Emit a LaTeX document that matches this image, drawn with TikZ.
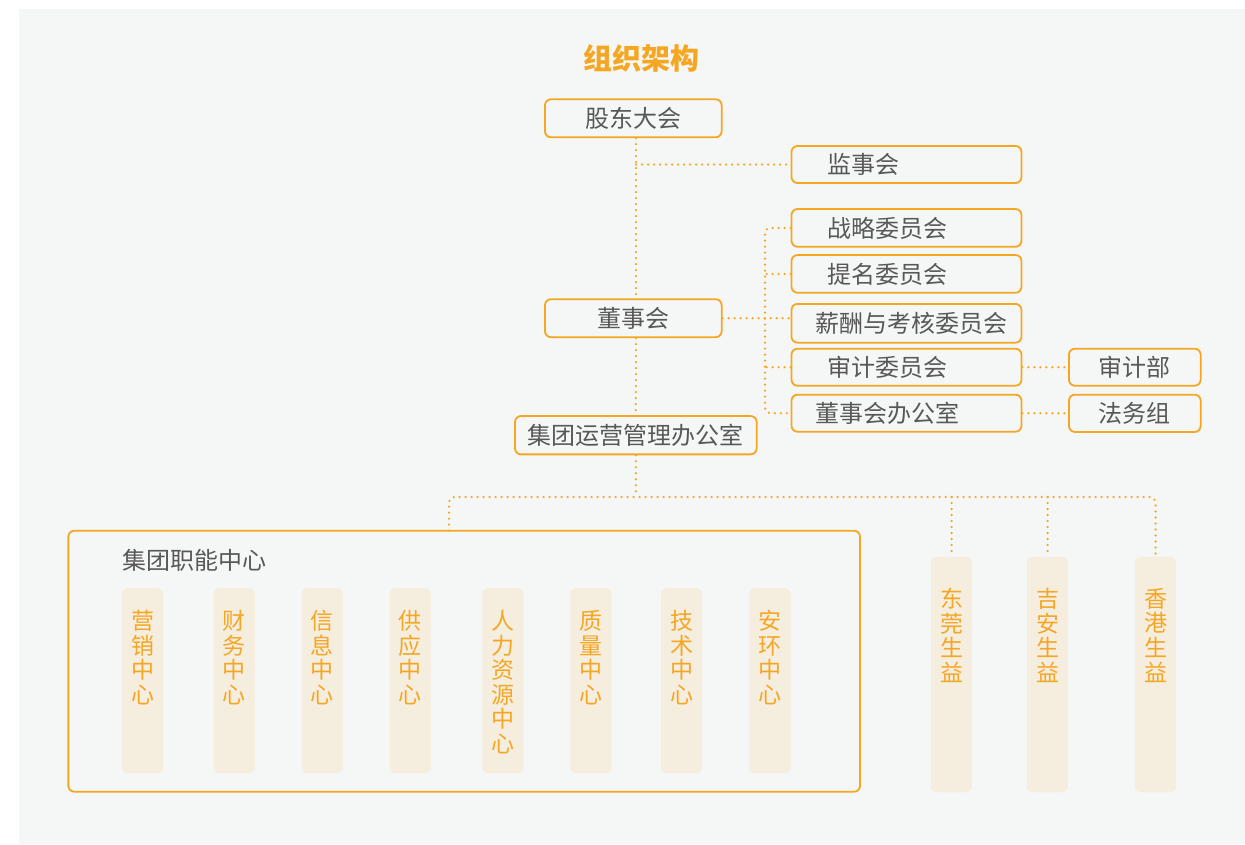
\documentclass[tikz,border=0pt]{standalone}
\usepackage{fontspec}
\newfontfamily\cjk{Noto Sans CJK SC}
\definecolor{org}{HTML}{F5A623}
\definecolor{bgc}{HTML}{F5F7F6}
\definecolor{beige}{HTML}{F5EEDF}
\definecolor{txt}{HTML}{585858}
\tikzset{
  obox/.style={draw=org, line width=1.8pt, rounded corners=6pt, minimum width=#1, inner sep=0pt},
  gtext/.style={text=txt, font=\cjk\fontsize{24}{28}\selectfont, inner sep=0pt},
  col/.style={fill=beige, rounded corners=6pt, minimum width=41.4pt, inner sep=0pt},
  vtext/.style={text=org, font=\cjk\fontsize{23}{24.6}\selectfont, align=center, inner sep=0pt, anchor=north},
  dot/.style={draw=org, line width=2.5pt, line cap=round, dash pattern=on 0pt off 6pt},
}
\begin{document}
\begin{tikzpicture}[x=1pt,y=-1pt]
\useasboundingbox (0,0) rectangle (1245,844);
\fill[bgc] (19,9) rectangle (1245,844);

\node[text=org, font=\cjk\bfseries\fontsize{29}{32}\selectfont, inner sep=0pt] (title) at (641.5,58) {组织架构};

% top chain
\node[obox=176.7pt, minimum height=38pt] (gd) at (633.3,118.3) {};
\node[gtext] (gdt) at (633.3,118.3) {股东大会};
\node[obox=230pt, minimum height=37pt] (js) at (906.5,164.5) {};
\node[gtext, anchor=west] (jst) at (827,164.5) {监事会};
\node[obox=176.7pt, minimum height=38pt] (dsh) at (633.3,318.2) {};
\node[gtext] (dsht) at (633.3,318.2) {董事会};
\node[obox=241.7pt, minimum height=38.3pt] (jt) at (635.8,435.2) {};
\node[gtext] (jtt) at (635.4,435.2) {集团运营管理办公室};

% committees
\node[obox=230pt, minimum height=37.7pt] (zl) at (906.5,227.9) {};
\node[gtext, anchor=west] (zlt) at (827,227.9) {战略委员会};
\node[obox=230pt, minimum height=37.7pt] (tm) at (906.5,273.9) {};
\node[gtext, anchor=west] (tmt) at (827,273.9) {提名委员会};
\node[obox=230pt, minimum height=38.7pt] (xc) at (906.5,323.3) {};
\node[gtext, anchor=west] (xct) at (815,323.3) {薪酬与考核委员会};
\node[obox=230pt, minimum height=37pt] (sj) at (906.5,367.2) {};
\node[gtext, anchor=west] (sjt) at (827,367.2) {审计委员会};
\node[obox=230pt, minimum height=37pt] (db) at (906.5,413.2) {};
\node[gtext, anchor=west] (dbt) at (815,413.2) {董事会办公室};
\node[obox=131.7pt, minimum height=37pt] (sjb) at (1134.8,367.2) {};
\node[gtext] (sjbt) at (1134.8,367.2) {审计部};
\node[obox=131.7pt, minimum height=37.3pt] (fw) at (1134.8,413.3) {};
\node[gtext] (fwt) at (1134.8,413.3) {法务组};

% connectors top
\draw[dot] ([xshift=2.7pt]gd.south) -- ([xshift=2.7pt]dsh.north);
\coordinate (j1) at (636,164.5);
\draw[dot] (j1) -- (js.west);
\coordinate (bus) at (765,320);
\draw[dot] (dsh.east) -- (dsh.east -| xc.west);
\draw[dot, rounded corners=5pt] (zl.west) -| (bus) |- (db.west);
\draw[dot] (tm.west) -- (tm.west -| bus);
\draw[dot] (sj.west) -- (sj.west -| bus);
\draw[dot] (sj.east) -- (sjb.west);
\draw[dot] (db.east) -- (fw.west);
\draw[dot] ([xshift=2.7pt]dsh.south) -- (jt.north);

% lower section
\node[obox=791.7pt, minimum height=261pt] (zn) at (464.2,661.2) {};
\node[gtext, anchor=west] (znt) at (122,560) {集团职能中心};

\foreach \n/\x/\t in {c1/142.5/营\\销\\中\\心, c2/234.3/财\\务\\中\\心, c3/322.3/信\\息\\中\\心, c4/410.3/供\\应\\中\\心, c5/503/人\\力\\资\\源\\中\\心, c6/591/质\\量\\中\\心, c7/681.7/技\\术\\中\\心, c8/770/安\\环\\中\\心}{
  \node[col, minimum height=185.3pt] (\n) at (\x,680.7) {};
  \node[vtext] (\n t) at (\x,610) {\t};
}

\node[col, minimum height=235.6pt] (dg) at (951.5,674.5) {};
\node[vtext] (dgt) at (951.5,588) {东\\莞\\生\\益};
\node[col, minimum height=235.6pt] (ja) at (1047.5,674.5) {};
\node[vtext] (jat) at (1047.5,588) {吉\\安\\生\\益};
\node[col, minimum height=235.6pt] (xg) at (1155.5,674.5) {};
\node[vtext] (xgt) at (1155.5,588) {香\\港\\生\\益};

\coordinate (hub) at (636,497);
\coordinate (zntop) at (449,530.7);
\draw[dot] (jt.south) -- (hub);
\draw[dot, rounded corners=5pt] (zntop) |- (hub) -| (xg.north);
\draw[dot] (dg.north |- hub) -- (dg.north);
\draw[dot] (ja.north |- hub) -- (ja.north);
\end{tikzpicture}
\end{document}
